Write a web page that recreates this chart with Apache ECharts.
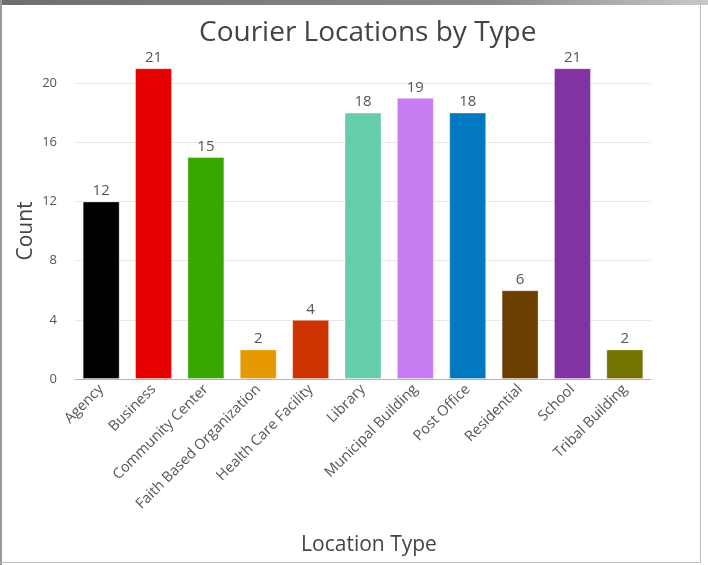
<!DOCTYPE html>
<html><head><meta charset="utf-8">
<script src="https://cdn.jsdelivr.net/npm/echarts@6/dist/echarts.min.js"></script>
<style>
html,body{margin:0;padding:0;background:#fff;}
#c{position:absolute;left:0;top:0;width:708px;height:565px;}
.f{position:absolute;}
</style></head>
<body>
<div id="c"></div>
<div class="f" style="left:0;top:0;width:708px;height:5px;background:linear-gradient(to right,#6e6e6e,#8a8a8a 70%,#c8c8c8);"></div>
<div class="f" style="left:0;top:0;width:2px;height:565px;background:#9a9a9a;"></div>
<div class="f" style="left:700px;top:5px;width:1px;height:558px;background:#bdbdbd;"></div>
<div class="f" style="left:0;top:562px;width:701px;height:1px;background:#bdbdbd;"></div>
<script>
const categories = ["Agency","Business","Community Center","Faith Based Organization","Health Care Facility","Library","Municipal Building","Post Office","Residential","School","Tribal Building"];
const counts = [12,21,15,2,4,18,19,18,6,21,2];
const barColors = ["#000000","#e60000","#38a800","#e69800","#cc3300","#66cdab","#c77cf2","#0079c1","#6b3f00","#8133a3","#737300"];
const yTicks = [0,4,8,12,16,20];

const chart = echarts.init(document.getElementById('c'));
chart.setOption({
  animation:false,
  title:{text:"Courier Locations by Type",left:194,top:14,
    textStyle:{fontFamily:"Open Sans",fontSize:28,fontWeight:'normal',color:'#444'}},
  grid:{left:75,right:57,top:83,bottom:186,containLabel:false},
  xAxis:{type:'category',data:categories,
    name:"Location Type",nameLocation:'middle',nameGap:156,
    nameTextStyle:{fontFamily:"Open Sans",fontSize:21,color:'#444',padding:[0,0,0,12]},
    axisLine:{lineStyle:{color:'#b5b5b5'}},
    axisTick:{alignWithLabel:true,length:5,lineStyle:{color:'#b5b5b5'}},
    axisLabel:{rotate:45,interval:0,fontFamily:"Open Sans",fontSize:14.5,color:'#555',margin:8}},
  yAxis:{type:'value',min:0,max:20,interval:4,
    name:"Count",nameLocation:'middle',nameGap:38,nameMoveOverlap:false,
    nameTextStyle:{fontFamily:"Open Sans",fontSize:21,color:'#444'},
    axisLine:{show:false},axisTick:{show:false},
    axisLabel:{fontFamily:"Open Sans",fontSize:13,color:'#555',margin:18,
      formatter:v=>yTicks.includes(v)?String(v):''},
    splitLine:{lineStyle:{color:'#e8e8e8'}}},
  series:[{type:'bar',clip:false,barWidth:37,
    data:counts.map((v,i)=>({value:v,itemStyle:{color:barColors[i]}})),
    itemStyle:{borderColor:'rgba(255,255,255,0.35)',borderWidth:1},
    label:{show:true,position:'top',distance:3,fontFamily:"Open Sans",fontSize:15,color:'#555'}}]
});
</script>
</body></html>
